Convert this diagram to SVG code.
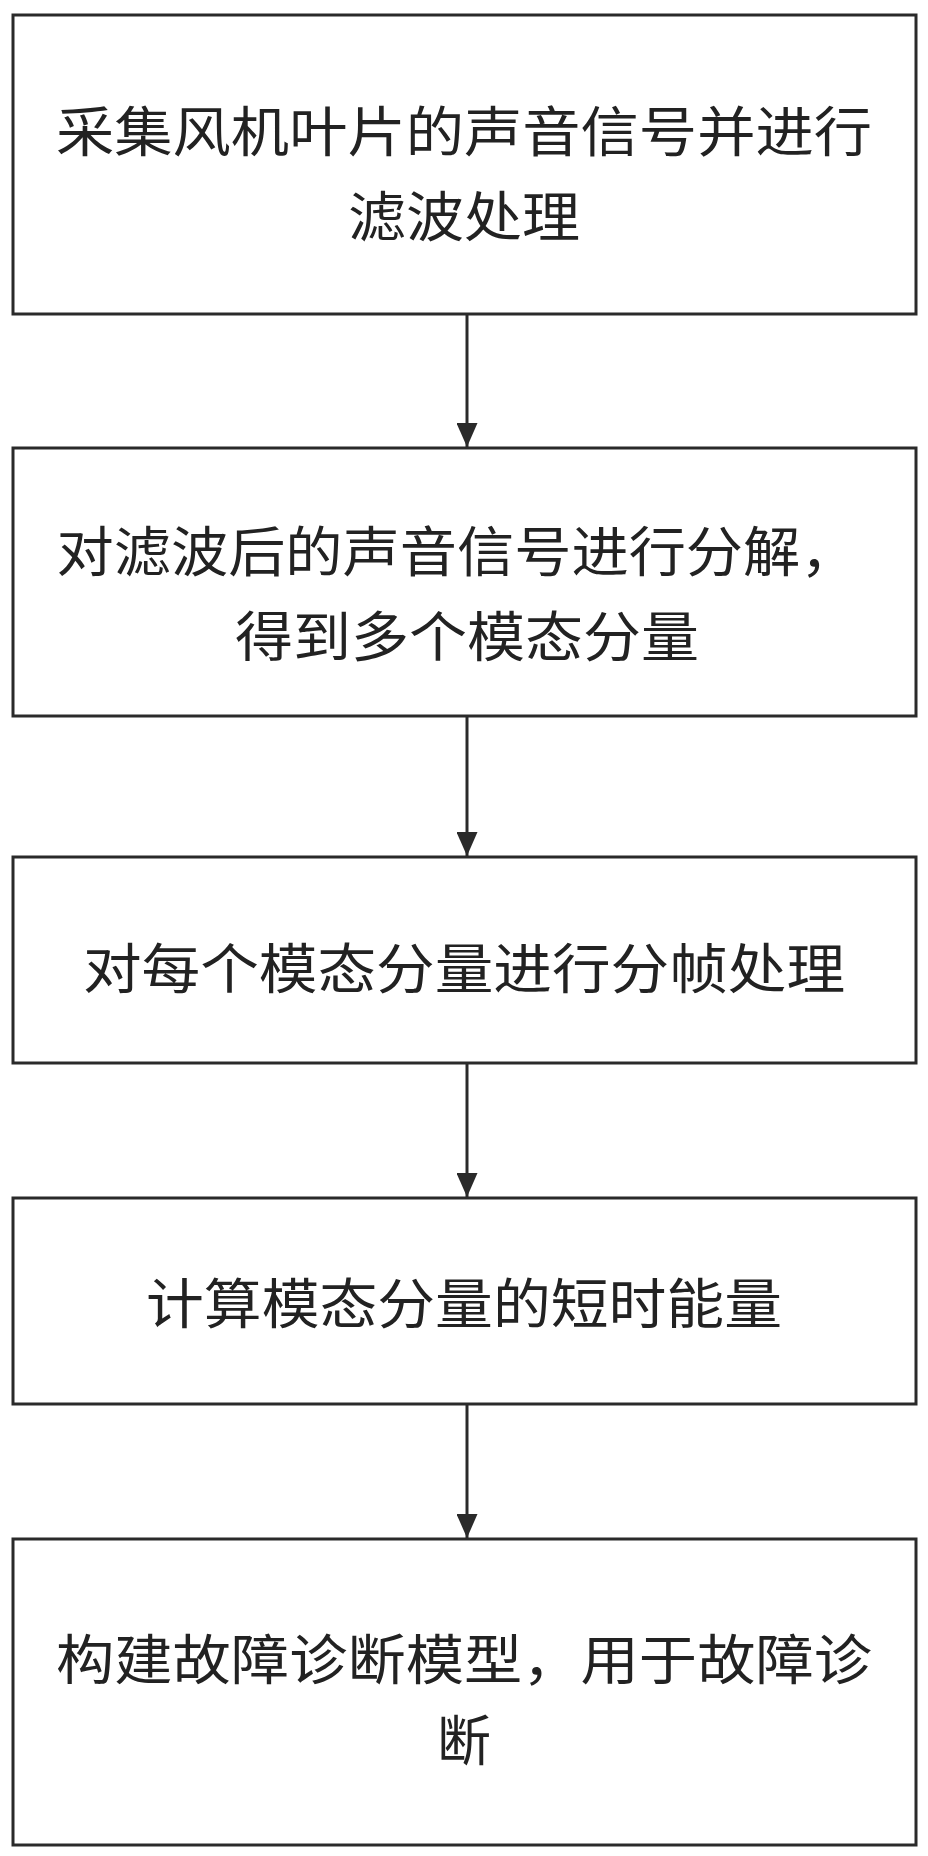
<svg xmlns="http://www.w3.org/2000/svg" width="928" height="1856" viewBox="0 0 928 1856">
<style>
.box{fill:#fff;stroke:#2a2a2a;stroke-width:3}
.t{font-family:"Noto Sans CJK SC","Liberation Sans",sans-serif;font-size:54px;fill:#222;text-anchor:middle;dominant-baseline:central}
.c{stroke:#2a2a2a;stroke-width:3;fill:none}
</style>
<defs><marker id="a" markerWidth="8" markerHeight="7" refX="8" refY="3.5" orient="auto" markerUnits="strokeWidth"><path d="M0,0L8,3.5L0,7z" fill="#2a2a2a"/></marker></defs>
<rect width="928" height="1856" fill="#fff"/>
<g id="n1"><rect class="box" x="13" y="15" width="903" height="299"/><text class="t" x="464" y="128" textLength="816" lengthAdjust="spacingAndGlyphs">采集风机叶片的声音信号并进行</text><text class="t" x="464" y="213" textLength="232" lengthAdjust="spacingAndGlyphs">滤波处理</text></g>
<g id="n2"><rect class="box" x="13" y="448" width="903" height="268"/><text class="t" x="457" y="548" textLength="801" lengthAdjust="spacingAndGlyphs">对滤波后的声音信号进行分解，</text><text class="t" x="467" y="633" textLength="464" lengthAdjust="spacingAndGlyphs">得到多个模态分量</text></g>
<g id="n3"><rect class="box" x="13" y="857" width="903" height="206"/><text class="t" x="464" y="965" textLength="762" lengthAdjust="spacingAndGlyphs">对每个模态分量进行分帧处理</text></g>
<g id="n4"><rect class="box" x="13" y="1198" width="903" height="206"/><text class="t" x="464" y="1300" textLength="636" lengthAdjust="spacingAndGlyphs">计算模态分量的短时能量</text></g>
<g id="n5"><rect class="box" x="13" y="1539" width="903" height="306"/><text class="t" x="464" y="1656" textLength="816" lengthAdjust="spacingAndGlyphs">构建故障诊断模型，用于故障诊</text><text class="t" x="464" y="1737">断</text></g>
<g id="connectors">
<line class="c" x1="467" y1="314" x2="467" y2="447" marker-end="url(#a)"/>
<line class="c" x1="467" y1="716" x2="467" y2="856" marker-end="url(#a)"/>
<line class="c" x1="467" y1="1063" x2="467" y2="1197" marker-end="url(#a)"/>
<line class="c" x1="467" y1="1404" x2="467" y2="1538" marker-end="url(#a)"/>
</g>
</svg>
